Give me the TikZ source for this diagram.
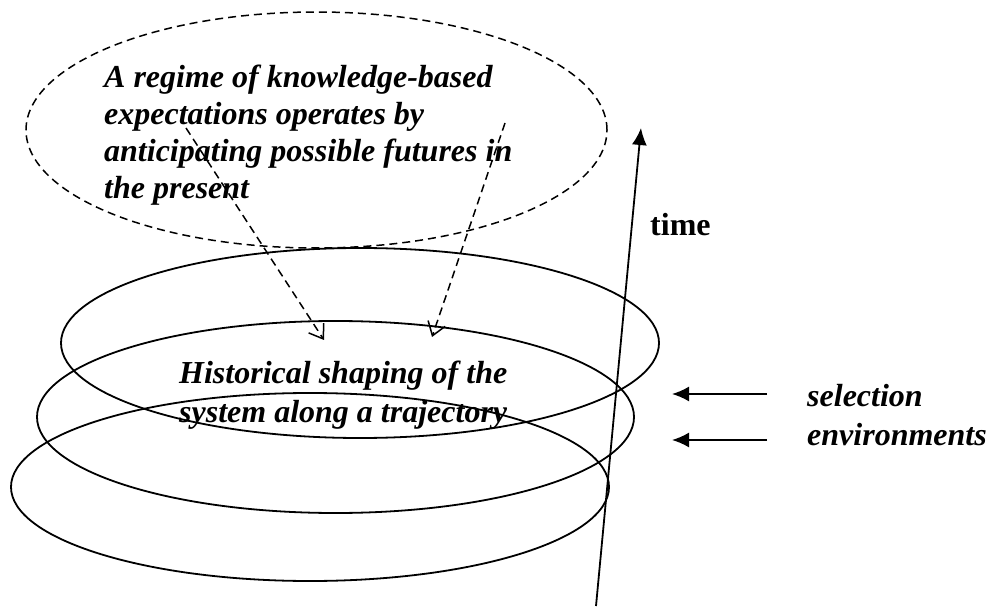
\documentclass[tikz,border=0pt]{standalone}
\usepackage{fontspec}
\setmainfont{Liberation Serif}
\usetikzlibrary{arrows.meta,shapes.geometric}
\begin{document}
\begin{tikzpicture}[x=1pt,y=-1pt,
  lbl/.style={font=\fontsize{32}{37}\selectfont\bfseries\itshape, inner sep=0pt, anchor=base west},
  ring/.style={draw, line width=1.8pt, ellipse, inner sep=0pt},
  dring/.style={draw, line width=1.5pt, dash pattern=on 8pt off 5pt, ellipse, inner sep=0pt},
  darrow/.style={line width=1.5pt, dash pattern=on 8pt off 5pt, -{Straight Barb[length=13pt,width=18pt,line width=1.5pt]}},
  sarrow/.style={line width=1.8pt, -{Latex[length=17pt,width=15pt]}}]
\useasboundingbox (0,0) rectangle (990,609);
% rings
\node[ring, minimum width=598pt, minimum height=188pt] (r3) at (310,487) {};
\node[ring, minimum width=597pt, minimum height=192pt] (r2) at (335.5,417) {};
\node[ring, minimum width=598pt, minimum height=190pt] (r1) at (360,343) {};
\node[dring, minimum width=581pt, minimum height=236pt] (reg) at (316.5,130) {};
% texts
\node[lbl] (t1) at (104,88) {A regime of knowledge-based};
\node[lbl] (t2) at (104,125) {expectations operates by};
\node[lbl] (t3) at (104,162) {anticipating possible futures in};
\node[lbl] (t4) at (104,199) {the present};
\node[lbl] (h1) at (179,383) {Historical shaping of the};
\node[lbl] (h2) at (179,422) {system along a trajectory};
\node[lbl] (s1) at (807,406) {selection};
\node[lbl] (s2) at (807,445) {environments};
\node[font=\fontsize{32}{37}\selectfont\bfseries, inner sep=0pt, anchor=base west] (tm) at (650,236) {time};
% dashed arrows
\coordinate (a1s) at (186,128);
\coordinate (a1e) at (324,340);
\coordinate (a2s) at (505,123);
\coordinate (a2e) at (432,337);
\draw[darrow] (a1s) -- (a1e);
\draw[darrow] (a2s) -- (a2e);
% time arrow
\coordinate (tb) at (596,606);
\coordinate (tt) at (641,128);
\draw[sarrow] (tb) -- (tt);
% selection arrows
\coordinate (e1s) at (767,394);
\coordinate (e1e) at (672,394);
\coordinate (e2s) at (767,440);
\coordinate (e2e) at (672,440);
\draw[sarrow] (e1s) -- (e1e);
\draw[sarrow] (e2s) -- (e2e);
\end{tikzpicture}
\end{document}
